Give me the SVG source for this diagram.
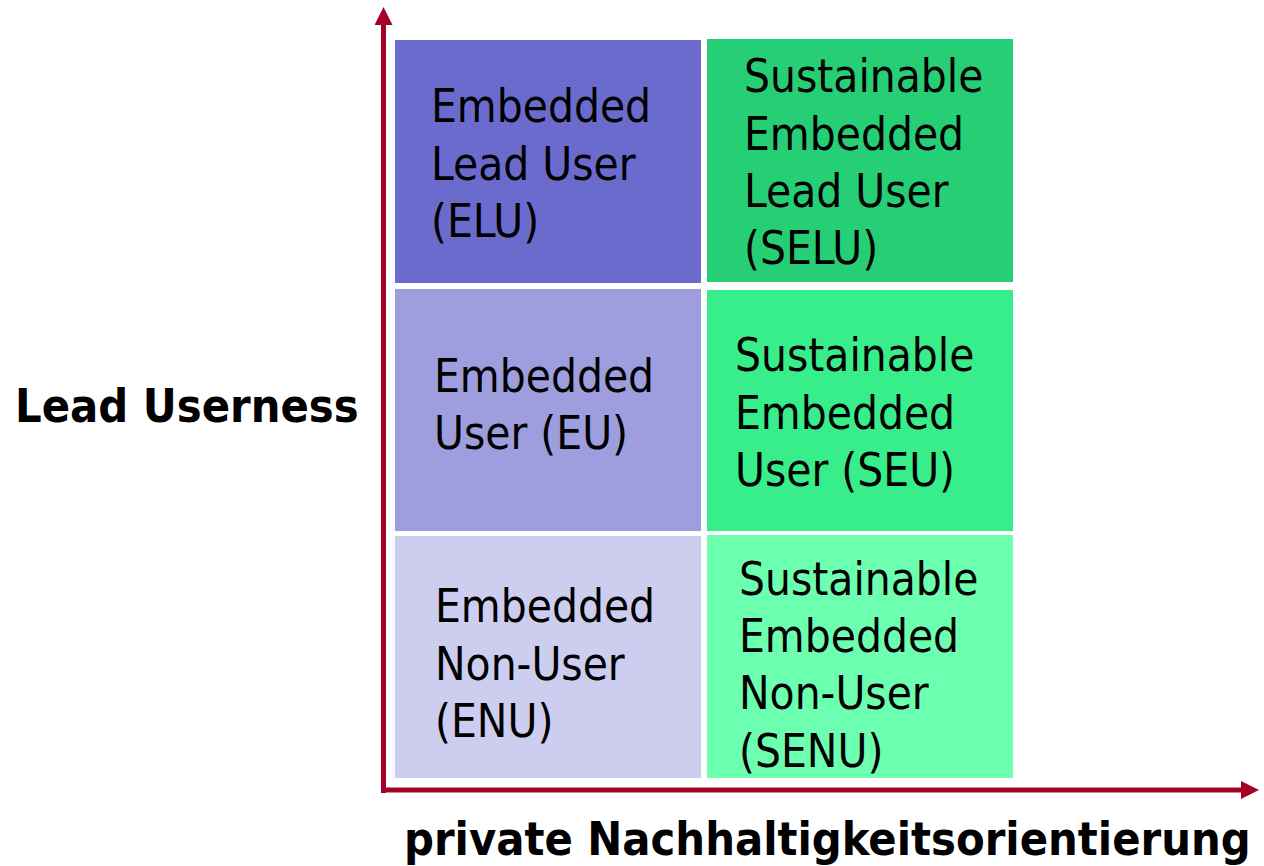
<svg xmlns="http://www.w3.org/2000/svg" width="1264" height="866" viewBox="0 0 1264 866">
  <style>
    .cell-text { font-family: "DejaVu Sans Condensed", "DejaVu Sans", sans-serif; font-stretch: condensed; font-size: 45.5px; fill: #000000; }
    .axis-label { font-family: "DejaVu Sans Condensed", "DejaVu Sans", sans-serif; font-stretch: condensed; font-weight: bold; font-size: 46.5px; fill: #000000; }
    .axis { stroke: #a50026; stroke-width: 5; fill: none; }
  </style>
  <defs>
    <marker id="arrow" markerUnits="userSpaceOnUse" markerWidth="18" markerHeight="18" refX="0" refY="9" orient="auto" viewBox="0 0 18 18">
      <path d="M0,0 L18,9 L0,18 z" fill="#a50026"/>
    </marker>
  </defs>
  <rect width="1264" height="866" fill="#ffffff"/>

  <g id="ELU">
    <rect x="395" y="40" width="306" height="243" fill="#6b6bce"/>
    <text class="cell-text" x="431" y="122">Embedded</text>
    <text class="cell-text" x="431" y="180">Lead User</text>
    <text class="cell-text" x="431" y="237">(ELU)</text>
  </g>
  <g id="SELU">
    <rect x="707" y="39" width="306" height="243" fill="#26cf75"/>
    <text class="cell-text" x="744" y="92">Sustainable</text>
    <text class="cell-text" x="744" y="150">Embedded</text>
    <text class="cell-text" x="744" y="207">Lead User</text>
    <text class="cell-text" x="744" y="264">(SELU)</text>
  </g>
  <g id="EU">
    <rect x="395" y="289" width="306" height="242" fill="#9e9ede"/>
    <text class="cell-text" x="434" y="392">Embedded</text>
    <text class="cell-text" x="434" y="449">User (EU)</text>
  </g>
  <g id="SEU">
    <rect x="707" y="290" width="306" height="241" fill="#38ee8a"/>
    <text class="cell-text" x="735" y="371">Sustainable</text>
    <text class="cell-text" x="735" y="429">Embedded</text>
    <text class="cell-text" x="735" y="486">User (SEU)</text>
  </g>
  <g id="ENU">
    <rect x="395" y="536" width="306" height="242" fill="#cdcdef"/>
    <text class="cell-text" x="435" y="622">Embedded</text>
    <text class="cell-text" x="435" y="680">Non-User</text>
    <text class="cell-text" x="435" y="737">(ENU)</text>
  </g>
  <g id="SENU">
    <rect x="707" y="535" width="306" height="243" fill="#6cffb0"/>
    <text class="cell-text" x="739" y="595">Sustainable</text>
    <text class="cell-text" x="739" y="652">Embedded</text>
    <text class="cell-text" x="739" y="709">Non-User</text>
    <text class="cell-text" x="739" y="767">(SENU)</text>
  </g>

  <g id="connectors">
    <line class="axis" x1="383.5" y1="793" x2="383.5" y2="25" marker-end="url(#arrow)"/>
    <line class="axis" x1="381" y1="790" x2="1241" y2="790" marker-end="url(#arrow)"/>
  </g>

  <g id="labels">
    <text class="axis-label" x="15" y="422">Lead Userness</text>
    <text class="axis-label" x="404" y="855">private Nachhaltigkeitsorientierung</text>
  </g>
</svg>
